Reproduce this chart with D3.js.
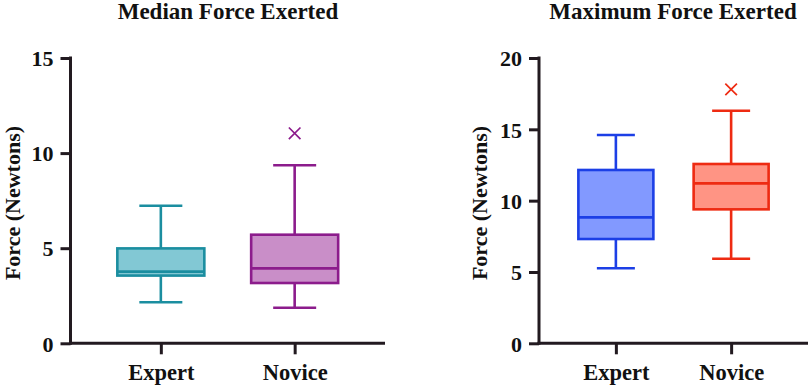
<!DOCTYPE html>
<html><head><meta charset="utf-8">
<script src="https://cdn.jsdelivr.net/npm/d3@7"></script>
<style>body{margin:0;background:#fff}svg{display:block}text{font-family:"Liberation Serif","Times New Roman",serif;font-weight:bold;fill:#111}</style>
</head><body><svg id="c" width="810" height="389"></svg>
<script>
const categories = ["Expert", "Novice"];
// [min, q1, median, q3, max]
const medianForce = [[2.16, 3.56, 3.77, 4.99, 7.23], [1.87, 3.17, 3.94, 5.71, 9.36]];
const medianOutliers = [[], [11.04]];
const maxForce = [[5.26, 7.31, 8.83, 12.15, 14.6], [5.93, 9.39, 11.21, 12.57, 16.3]];
const maxOutliers = [[], [17.8]];
const medianTicks = [0, 5, 10, 15];
const maxTicks = [0, 5, 10, 15, 20];
const titles = ["Median Force Exerted", "Maximum Force Exerted"];
const yLabel = "Force (Newtons)";
const strokes1 = ["#1b8ea0", "#8c1c8c"], fills1 = ["#82c8d4", "#c98ec8"];
const strokes2 = ["#1c3fe6", "#ee2b12"], fills2 = ["#8299ff", "#ff9484"];

const svg = d3.select("#c");
const axisColor = "#221a20";

function panel(cfg) {
  const g = svg.append("g");
  const x = d3.scalePoint().domain(categories).range([cfg.x0, cfg.x1]).padding(cfg.pad);
  const y = d3.scaleLinear().domain([0, cfg.ymax]).range([343.3, 58]);
  // title
  g.append("text").attr("x", cfg.titleX).attr("y", 19).attr("text-anchor", "middle")
    .style("font-size", "23px").text(cfg.title);
  // y label
  g.append("text").attr("transform", `translate(${cfg.labelX},${203}) rotate(-90)`)
    .attr("text-anchor", "middle").style("font-size", "22px").text(yLabel);
  // y axis
  const ya = g.append("g").attr("transform", `translate(${cfg.x0},0)`)
    .call(d3.axisLeft(y).tickValues(cfg.ticks).tickSize(10).tickPadding(7).tickSizeOuter(0));
  ya.select(".domain").attr("stroke", axisColor).attr("stroke-width", 3).attr("d", `M0,${y(cfg.ymax)-1.5}V${y(0)+1.5}`);
  ya.selectAll(".tick line").attr("stroke", axisColor).attr("stroke-width", 3);
  ya.selectAll(".tick text").style("font-size", "22px").attr("fill", "#111").attr("dy", "0.35em");
  // x axis
  const xa = g.append("g").attr("transform", `translate(0,${y(0)})`)
    .call(d3.axisBottom(x).tickSize(11).tickPadding(10).tickSizeOuter(0));
  xa.select(".domain").attr("stroke", axisColor).attr("stroke-width", 3).attr("d", `M${cfg.x0-1.5},0H${cfg.x1}`);
  xa.selectAll(".tick line").attr("stroke", axisColor).attr("stroke-width", 3);
  xa.selectAll(".tick text").style("font-size", "22.5px").attr("fill", "#111");
  // boxes
  const bw = cfg.boxW, cw = cfg.capW;
  categories.forEach((c, i) => {
    const [mn, q1, md, q3, mx] = cfg.data[i];
    const cx = x(c), sc = cfg.strokes[i];
    const bg = g.append("g").attr("stroke", sc).attr("stroke-width", 2.6).attr("fill", "none");
    bg.append("line").attr("x1", cx).attr("x2", cx).attr("y1", y(mx)).attr("y2", y(q3));
    bg.append("line").attr("x1", cx).attr("x2", cx).attr("y1", y(q1)).attr("y2", y(mn));
    bg.append("line").attr("x1", cx - cw/2).attr("x2", cx + cw/2).attr("y1", y(mx)).attr("y2", y(mx));
    bg.append("line").attr("x1", cx - cw/2).attr("x2", cx + cw/2).attr("y1", y(mn)).attr("y2", y(mn));
    bg.append("rect").attr("x", cx - bw/2).attr("width", bw).attr("y", y(q3)).attr("height", y(q1) - y(q3))
      .attr("fill", cfg.fills[i]);
    bg.append("line").attr("x1", cx - bw/2).attr("x2", cx + bw/2).attr("y1", y(md)).attr("y2", y(md));
    cfg.outliers[i].forEach(o => {
      const s = 5.8;
      bg.append("path").attr("stroke-width", 1.7)
        .attr("d", `M${cx-s},${y(o)-s}L${cx+s},${y(o)+s}M${cx-s},${y(o)+s}L${cx+s},${y(o)-s}`);
    });
  });
}

panel({x0: 70.5, x1: 385, pad: 0.675, ymax: 15, ticks: medianTicks, data: medianForce, outliers: medianOutliers,
  strokes: strokes1, fills: fills1, title: titles[0], titleX: 228, labelX: 20, boxW: 87, capW: 43});
panel({x0: 539, x1: 808, pad: 0.667, ymax: 20, ticks: maxTicks, data: maxForce, outliers: maxOutliers,
  strokes: strokes2, fills: fills2, title: titles[1], titleX: 673, labelX: 487, boxW: 75, capW: 38});
</script></body></html>
